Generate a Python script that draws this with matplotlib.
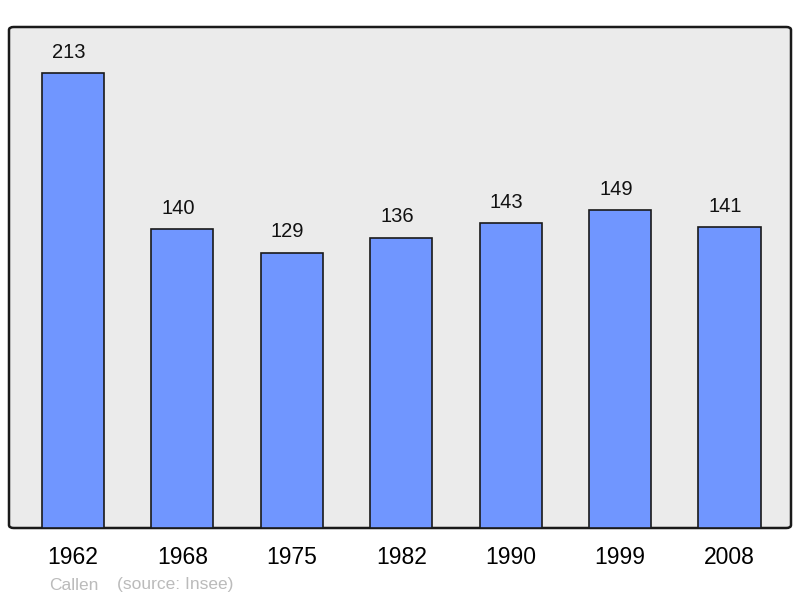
import matplotlib
matplotlib.use("Agg")
import matplotlib.pyplot as plt
from matplotlib.patches import FancyBboxPatch

years = ["1962", "1968", "1975", "1982", "1990", "1999", "2008"]
population = [213, 140, 129, 136, 143, 149, 141]
commune = "Callen"
source = "(source: Insee)"

plt.rcParams['font.family'] = ['Liberation Sans', 'DejaVu Sans']

fig = plt.figure(figsize=(8, 5.98), dpi=100)
ax = fig.add_axes([9/800, 70/598, 782/800, 501/598])
ax.set_facecolor('none')
for s in ax.spines.values():
    s.set_visible(False)

frame = FancyBboxPatch((0, 0), 1, 1, boxstyle="round,pad=0,rounding_size=0.006",
                       transform=ax.transAxes, facecolor='#EBEBEB', edgecolor='#1a1a1a',
                       linewidth=1.8, zorder=0, clip_on=False)
ax.add_patch(frame)

x = list(range(len(years)))
bars = ax.bar(x, population, width=0.567, color='#7096FF', edgecolor='#1a1a1a',
              linewidth=1.2, zorder=2)
for xi, v in zip(x, population):
    ax.annotate(str(v), (xi, v), xytext=(-3, 8), textcoords='offset points',
                ha='center', va='bottom', fontsize=14.5, color='#111111')

ax.set_xlim(-0.585, 6.562)
ax.set_ylim(0, 234.6)
ax.set_yticks([])
ax.set_xticks(x)
ax.set_xticklabels(years, fontsize=16.5)
ax.tick_params(axis='x', length=0, pad=13)

fig.text(49/800, 1 - 585/598, commune, fontsize=12.5, color='#BBBBBB', va='center', ha='left')
fig.text(117/800, 1 - 585/598, source, fontsize=12.5, color='#BBBBBB', va='center', ha='left')

fig.savefig("out.png", dpi=100)
